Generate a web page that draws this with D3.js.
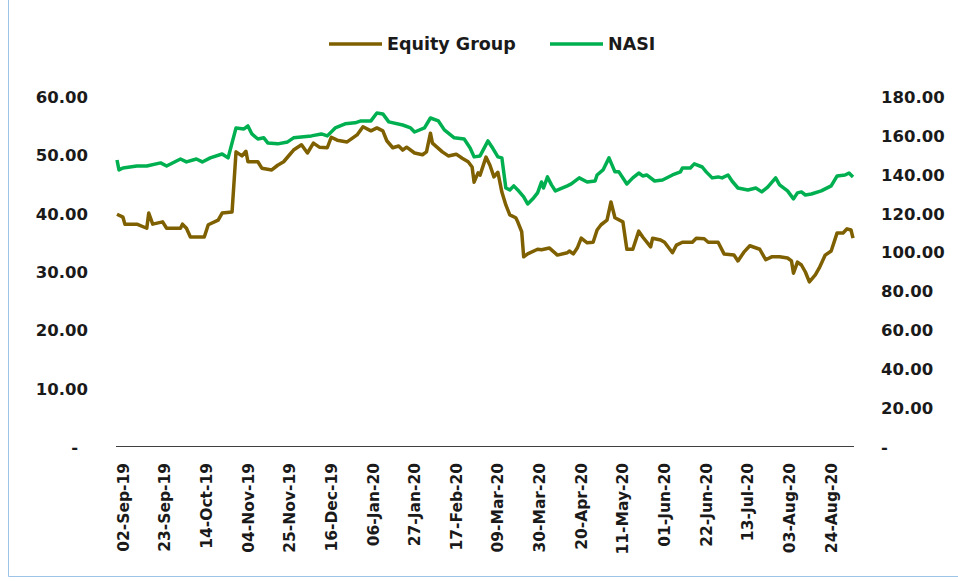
<!DOCTYPE html>
<html>
<head>
<meta charset="utf-8">
<script src="https://cdn.jsdelivr.net/npm/d3@7"></script>
<style>
  body { margin: 0; background: #fff; }
  svg { display: block; }
  text { font-family: "DejaVu Sans", sans-serif; fill: #1a1a1a; }
</style>
</head>
<body>
<svg width="958" height="581"></svg>
<script>
var seriesNames = ["Equity Group", "NASI"];
var seriesColors = ["#7f6000", "#00b050"];

var equityDates = [
  "2019-08-30", "2019-09-02", "2019-09-03", "2019-09-09", "2019-09-14", "2019-09-15", "2019-09-17",
  "2019-09-22", "2019-09-24", "2019-10-01", "2019-10-02", "2019-10-04", "2019-10-06", "2019-10-13",
  "2019-10-15", "2019-10-20", "2019-10-22", "2019-10-27", "2019-10-29", "2019-11-01", "2019-11-03",
  "2019-11-04", "2019-11-09", "2019-11-11", "2019-11-16", "2019-11-19", "2019-11-22", "2019-11-25",
  "2019-11-27", "2019-12-01", "2019-12-04", "2019-12-07", "2019-12-10", "2019-12-14", "2019-12-16",
  "2019-12-19", "2019-12-24", "2019-12-29", "2020-01-01", "2020-01-05", "2020-01-08", "2020-01-11",
  "2020-01-13", "2020-01-16", "2020-01-19", "2020-01-21", "2020-01-23", "2020-01-27", "2020-01-31",
  "2020-02-02", "2020-02-04", "2020-02-05", "2020-02-10", "2020-02-13", "2020-02-17", "2020-02-20",
  "2020-02-23", "2020-02-25", "2020-02-26", "2020-02-28", "2020-02-29", "2020-03-03", "2020-03-05",
  "2020-03-07", "2020-03-09", "2020-03-11", "2020-03-13", "2020-03-15", "2020-03-18", "2020-03-19",
  "2020-03-21", "2020-03-22", "2020-03-24", "2020-03-29", "2020-03-31", "2020-04-04", "2020-04-08",
  "2020-04-13", "2020-04-14", "2020-04-16", "2020-04-18", "2020-04-20", "2020-04-23", "2020-04-26",
  "2020-04-28", "2020-04-30", "2020-05-03", "2020-05-05", "2020-05-07", "2020-05-11", "2020-05-13",
  "2020-05-16", "2020-05-19", "2020-05-21", "2020-05-25", "2020-05-26", "2020-05-30", "2020-06-01",
  "2020-06-05", "2020-06-07", "2020-06-10", "2020-06-15", "2020-06-17", "2020-06-21", "2020-06-23",
  "2020-06-28", "2020-07-01", "2020-07-06", "2020-07-08", "2020-07-11", "2020-07-14", "2020-07-19",
  "2020-07-22", "2020-07-25", "2020-07-29", "2020-08-02", "2020-08-04", "2020-08-05", "2020-08-07",
  "2020-08-09", "2020-08-11", "2020-08-13", "2020-08-16", "2020-08-18", "2020-08-21", "2020-08-24",
  "2020-08-27", "2020-08-30", "2020-09-01", "2020-09-03", "2020-09-04"
];
var equityValues = [
  39.9, 39.4, 38.2, 38.2, 37.5, 40.1, 38.2,
  38.6, 37.5, 37.5, 38.2, 37.5, 36.0, 36.0,
  38.1, 38.9, 40.1, 40.3, 50.6, 49.9, 50.7,
  48.9, 48.9, 47.8, 47.5, 48.3, 48.9, 50.1,
  50.9, 51.8, 50.4, 52.1, 51.4, 51.3, 53.1,
  52.6, 52.3, 53.5, 54.9, 54.2, 54.7, 54.2,
  52.5, 51.3, 51.6, 50.9, 51.4, 50.4, 50.1,
  50.6, 53.8, 52.1, 50.6, 49.9, 50.2, 49.5,
  48.9, 48.0, 45.4, 47.0, 46.6, 49.7, 48.3,
  46.3, 47.1, 43.7, 41.5, 39.8, 39.3, 38.6,
  36.9, 32.6, 33.1, 33.9, 33.8, 34.1, 32.9,
  33.3, 33.6, 33.1, 34.1, 35.8, 35.0, 35.1,
  37.2, 38.1, 38.9, 42.0, 39.3, 38.6, 33.9,
  33.9, 37.0, 36.0, 34.3, 35.8, 35.5, 35.1,
  33.3, 34.6, 35.1, 35.1, 35.8, 35.7, 35.1,
  35.1, 33.1, 32.9, 31.9, 33.4, 34.5, 33.9,
  32.1, 32.6, 32.6, 32.4, 31.9, 29.8, 31.7,
  31.2, 30.0, 28.3, 29.5, 30.7, 32.9, 33.6,
  36.7, 36.7, 37.4, 37.2, 35.8
];

var nasiDates = [
  "2019-08-30", "2019-08-31", "2019-09-02", "2019-09-09", "2019-09-14", "2019-09-21", "2019-09-24",
  "2019-10-01", "2019-10-04", "2019-10-09", "2019-10-12", "2019-10-16", "2019-10-22", "2019-10-25",
  "2019-10-29", "2019-11-02", "2019-11-04", "2019-11-06", "2019-11-09", "2019-11-12", "2019-11-14",
  "2019-11-19", "2019-11-24", "2019-11-27", "2019-12-06", "2019-12-11", "2019-12-14", "2019-12-18",
  "2019-12-23", "2019-12-28", "2019-12-31", "2020-01-05", "2020-01-08", "2020-01-11", "2020-01-14",
  "2020-01-21", "2020-01-25", "2020-01-27", "2020-02-01", "2020-02-04", "2020-02-08", "2020-02-11",
  "2020-02-16", "2020-02-21", "2020-02-24", "2020-02-26", "2020-02-29", "2020-03-04", "2020-03-06",
  "2020-03-09", "2020-03-11", "2020-03-13", "2020-03-15", "2020-03-17", "2020-03-19", "2020-03-22",
  "2020-03-24", "2020-03-27", "2020-03-29", "2020-03-31", "2020-04-01", "2020-04-03", "2020-04-05",
  "2020-04-07", "2020-04-13", "2020-04-15", "2020-04-19", "2020-04-23", "2020-04-27", "2020-04-28",
  "2020-05-01", "2020-05-04", "2020-05-07", "2020-05-09", "2020-05-13", "2020-05-16", "2020-05-19",
  "2020-05-21", "2020-05-23", "2020-05-27", "2020-05-31", "2020-06-05", "2020-06-09", "2020-06-10",
  "2020-06-14", "2020-06-16", "2020-06-20", "2020-06-22", "2020-06-25", "2020-06-28", "2020-06-30",
  "2020-07-03", "2020-07-05", "2020-07-08", "2020-07-13", "2020-07-17", "2020-07-20", "2020-07-23",
  "2020-07-27", "2020-07-29", "2020-08-02", "2020-08-05", "2020-08-07", "2020-08-09", "2020-08-11",
  "2020-08-14", "2020-08-19", "2020-08-24", "2020-08-27", "2020-08-31", "2020-09-02", "2020-09-04"
];
var nasiValues = [
  147.6, 142.5, 143.5, 144.5, 144.5, 146.1, 144.5,
  148.1, 146.6, 148.1, 146.6, 148.7, 150.7, 148.7,
  164.1, 163.6, 165.1, 161.0, 158.4, 159.0, 156.4,
  155.9, 156.9, 159.0, 160.0, 161.0, 160.0, 164.1,
  166.2, 166.7, 167.7, 167.7, 171.8, 171.3, 167.2,
  165.6, 164.1, 162.0, 164.1, 169.2, 167.7, 163.1,
  159.0, 158.4, 153.8, 149.2, 149.7, 157.4, 154.3,
  149.2, 148.7, 133.2, 132.2, 134.3, 132.2, 128.6,
  125.0, 128.1, 130.7, 136.3, 133.2, 138.9, 134.8,
  131.7, 134.3, 135.3, 138.4, 136.3, 136.8, 139.9,
  142.5, 148.7, 141.5, 141.5, 135.3, 138.4, 140.9,
  139.4, 139.9, 136.8, 137.3, 139.9, 141.5, 143.5,
  143.5, 145.6, 144.0, 141.5, 138.4, 138.9, 138.4,
  139.9, 136.8, 133.2, 132.2, 133.2, 131.2, 133.7,
  138.4, 134.8, 131.7, 127.6, 130.7, 131.2, 129.6,
  130.1, 131.7, 134.3, 139.4, 139.9, 140.9, 138.9
];

var tickDates = [
  "2019-09-02", "2019-09-23", "2019-10-14", "2019-11-04", "2019-11-25", "2019-12-16",
  "2020-01-06", "2020-01-27", "2020-02-17", "2020-03-09", "2020-03-30", "2020-04-20",
  "2020-05-11", "2020-06-01", "2020-06-22", "2020-07-13", "2020-08-03", "2020-08-24"
];
var leftTicks = [0, 10, 20, 30, 40, 50, 60];
var rightTicks = [0, 20, 40, 60, 80, 100, 120, 140, 160, 180];

var parse = d3.timeParse("%Y-%m-%d");
var fmtDate = d3.timeFormat("%d-%b-%y");
var fmtNum = d3.format(".2f");

var svg = d3.select("svg");

// chart frame (left and bottom edges show in the original)
svg.append("path")
  .attr("d", "M8.5,-1V576.5H958")
  .attr("fill", "none")
  .attr("stroke", "#9dc3e6")
  .attr("stroke-width", 1);

var x = d3.scaleTime()
  .domain([parse("2019-08-30"), parse("2020-09-04")])
  .range([117, 853]);
var yLeft = d3.scaleLinear().domain([0, 60]).range([447, 97]);
var yRight = d3.scaleLinear().domain([0, 180]).range([447, 97]);

// left axis labels
svg.append("g")
  .selectAll("text")
  .data(leftTicks)
  .enter()
  .append("text")
  .attr("x", function (d) { return d === 0 ? 78 : 88; })
  .attr("y", function (d) { return yLeft(d); })
  .attr("dy", "0.36em")
  .attr("text-anchor", "end")
  .style("font-size", "16.5px")
  .style("font-weight", "bold")
  .text(function (d) { return d === 0 ? "-" : fmtNum(d); });

// right axis labels
svg.append("g")
  .selectAll("text")
  .data(rightTicks)
  .enter()
  .append("text")
  .attr("x", 881)
  .attr("y", function (d) { return yRight(d); })
  .attr("dy", "0.36em")
  .attr("text-anchor", "start")
  .style("font-size", "16.5px")
  .style("font-weight", "bold")
  .text(function (d) { return d === 0 ? "-" : fmtNum(d); });

// x axis line
svg.append("line")
  .attr("x1", 116)
  .attr("x2", 854)
  .attr("y1", 446.5)
  .attr("y2", 446.5)
  .attr("stroke", "#404040")
  .attr("stroke-width", 1);

// x labels, rotated
svg.append("g")
  .selectAll("text")
  .data(tickDates.map(parse))
  .enter()
  .append("text")
  .attr("transform", function (d) {
    return "translate(" + x(d) + ",463) rotate(-90)";
  })
  .attr("dy", "0.36em")
  .attr("text-anchor", "end")
  .style("font-size", "15.5px")
  .style("font-weight", "bold")
  .text(function (d) { return fmtDate(d); });

var line = function (scale) {
  return d3.line()
    .x(function (d) { return x(d[0]); })
    .y(function (d) { return scale(d[1]); });
};

var nasiData = nasiDates.map(function (d, i) { return [parse(d), nasiValues[i]]; });
var equityData = equityDates.map(function (d, i) { return [parse(d), equityValues[i]]; });

svg.append("path")
  .datum(nasiData)
  .attr("fill", "none")
  .attr("stroke", seriesColors[1])
  .attr("stroke-width", 3.5)
  .attr("stroke-linejoin", "round")
  .attr("d", line(yRight));

svg.append("path")
  .datum(equityData)
  .attr("fill", "none")
  .attr("stroke", seriesColors[0])
  .attr("stroke-width", 3.5)
  .attr("stroke-linejoin", "round")
  .attr("d", line(yLeft));

// legend
var legendX = [329, 550];
var legend = svg.append("g")
  .selectAll("g")
  .data(seriesNames)
  .enter()
  .append("g")
  .attr("transform", function (d, i) { return "translate(" + legendX[i] + ",44)"; });

legend.append("line")
  .attr("x1", 0)
  .attr("x2", 53)
  .attr("stroke", function (d, i) { return seriesColors[i]; })
  .attr("stroke-width", 3.5);

legend.append("text")
  .attr("x", 58)
  .attr("dy", "0.36em")
  .style("font-size", "17.5px")
  .style("font-weight", "bold")
  .text(function (d) { return d; });
</script>
</body>
</html>
